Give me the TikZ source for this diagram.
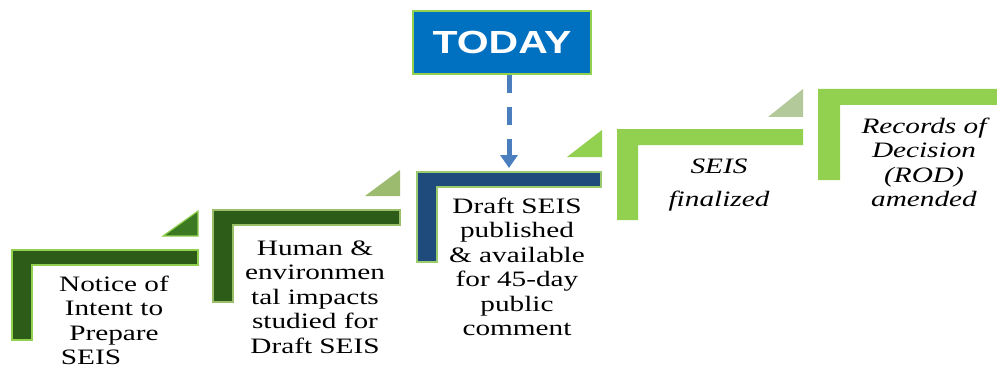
\documentclass[tikz,border=0pt]{standalone}
\usepackage{fontspec}
\usetikzlibrary{arrows.meta}
\newfontfamily\stepfont{Liberation Serif}[FakeStretch=1.33]
\newfontfamily\todayfont{Liberation Sans}[FakeStretch=1.28]
\definecolor{dkgreen}{HTML}{2D5B18}
\definecolor{ltgreen}{HTML}{92D050}
\definecolor{trione}{HTML}{3B7A23}
\definecolor{tritwo}{HTML}{9CBB6E}
\definecolor{trifour}{HTML}{B4C999}
\definecolor{navy}{HTML}{1F4A7C}
\definecolor{navyedge}{HTML}{9BCB6F}
\definecolor{todayblue}{HTML}{0070C0}
\definecolor{arrowblue}{HTML}{4A7EBF}
\begin{document}
\begin{tikzpicture}[x=1pt,y=-1pt,
  lshape/.style={line width=2.2pt, line join=miter},
  steptext/.style={anchor=north, inner sep=0pt, align=center,
    font=\stepfont\fontsize{22}{24.5}\selectfont},
  todaybox/.style={draw=ltgreen, fill=todayblue, line width=1.6pt,
    minimum width=178pt, minimum height=63pt, inner sep=0pt,
    text=white, font=\todayfont\bfseries\fontsize{32}{36}\selectfont},
  dasharrow/.style={draw=arrowblue, line width=5pt, dash pattern=on 18pt off 14pt,
    -{Triangle[width=17pt,length=13pt]}}
]
\useasboundingbox (0,0) rectangle (997,369);
\fill[white] (0,0) rectangle (997,369);

% step 1
\fill[trione, draw=ltgreen, line width=1.2pt] (163,236) -- (198,211) -- (198,236) -- cycle;
\filldraw[lshape, fill=dkgreen, draw=ltgreen]
  (12,250) -- (198,250) -- (198,265) -- (32,265) -- (32,340) -- (12,340) -- cycle;
\node[steptext] (t1) at (114,274) {\strut Notice of\\Intent to\\Prepare\\SEIS\rule{46pt}{0pt}};

% step 2
\fill[tritwo] (365,196) -- (400,170) -- (400,196) -- cycle;
\filldraw[lshape, fill=dkgreen, draw=tritwo!80!ltgreen]
  (213,210) -- (400,210) -- (400,225) -- (233,225) -- (233,302) -- (213,302) -- cycle;
\node[steptext] (t2) at (315,238) {\strut Human \&\\environmen\\tal impacts\\studied for\\Draft SEIS};

% step 3
\fill[ltgreen] (567,157) -- (602,130) -- (602,157) -- cycle;
\filldraw[lshape, fill=navy, draw=navyedge]
  (417,172) -- (601,172) -- (601,187) -- (437,187) -- (437,262) -- (417,262) -- cycle;
\node[steptext] (t3) at (517,196) {\strut Draft SEIS\\published\\\& available\\for 45-day\\public\\comment};

% step 4
\fill[trifour] (768,117) -- (803,89) -- (803,117) -- cycle;
\fill[ltgreen]
  (617,129) -- (803,129) -- (803,145) -- (638,145) -- (638,220) -- (617,220) -- cycle;
\node[steptext, font=\stepfont\itshape\fontsize{22}{24.5}\selectfont] (t4) at (719,156) {\strut SEIS\\[9pt]finalized};

% step 5
\fill[ltgreen]
  (818,89) -- (1000,89) -- (1000,105) -- (840,105) -- (840,180) -- (818,180) -- cycle;
\node[steptext, font=\stepfont\itshape\fontsize{22}{24.5}\selectfont] (t5) at (924,116) {\strut Records of\\Decision\\(ROD)\\amended};

% today
\node[todaybox] (today) at (502,42.5) {TODAY};
\coordinate (s3top) at (509,168);
\draw[dasharrow] (today.south -| s3top) -- (s3top);
\end{tikzpicture}
\end{document}
